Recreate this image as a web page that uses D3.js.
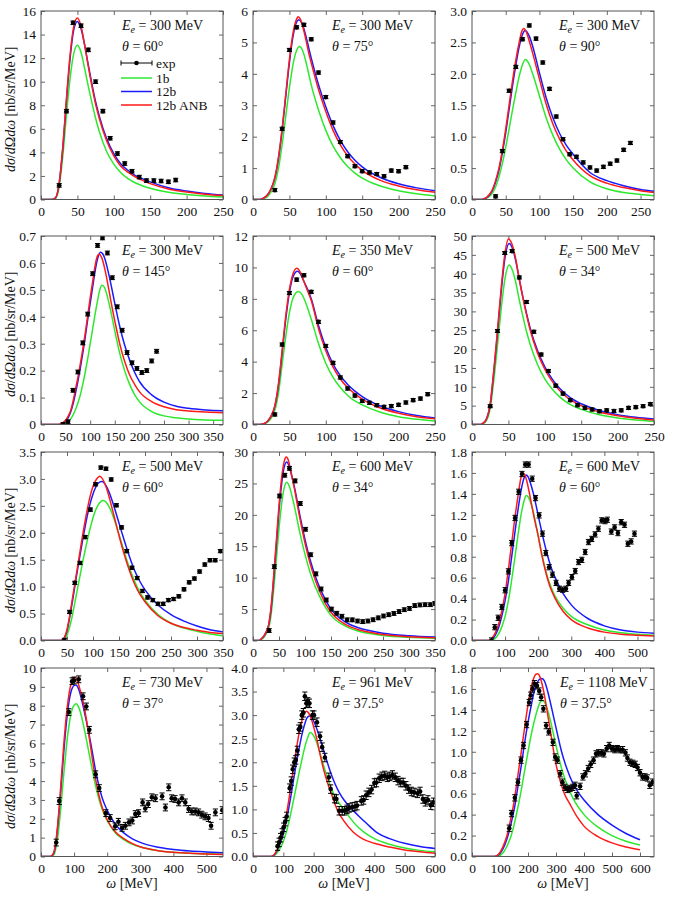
<!DOCTYPE html>
<html><head><meta charset="utf-8">
<script src="https://cdn.jsdelivr.net/npm/d3@7"></script>
<style>
body{margin:0;background:#fff}
svg{display:block}
text{font-family:"Liberation Serif","DejaVu Serif","Times New Roman",serif;fill:#111}
</style>
</head><body>
<svg id="c" width="673" height="898"></svg>
<script>
// ---------------- panel meta ----------------
const energies = [300,300,300,300,350,500,500,600,600,730,961,1108];
const angles = ["60","75","90","145","60","34","60","34","60","37","37.5","37.5"];
const xMax = [250,250,270,370,250,250,350,350,550,550,600,650];
const yMax = [16,6,3,0.7,12,50,3.5,30,1.8,10,4,1.8];
const expErr = [0.15,0.05,0.025,0.007,0.1,0.4,0.03,0.3,0.025,0.18,0.09,0.03];
const xLabels = [
  ["0","50","100","150","200","250"],["0","50","100","150","200","250"],["0","50","100","150","200","250"],
  ["0","50","100","150","200","250","300","350"],["0","50","100","150","200","250"],["0","50","100","150","200","250"],
  ["0","50","100","150","200","250","300","350"],["0","50","100","150","200","250","300","350"],["0","100","200","300","400","500"],
  ["0","100","200","300","400","500"],["0","100","200","300","400","500","600"],["0","100","200","300","400","500","600"]];
const yLabels = [
  ["0","2","4","6","8","10","12","14","16"],["0","1","2","3","4","5","6"],["0.0","0.5","1.0","1.5","2.0","2.5","3.0"],
  ["0","0.1","0.2","0.3","0.4","0.5","0.6","0.7"],["0","2","4","6","8","10","12"],["0","5","10","15","20","25","30","35","40","45","50"],
  ["0.0","0.5","1.0","1.5","2.0","2.5","3.0","3.5"],["0","5","10","15","20","25","30"],["0.0","0.2","0.4","0.6","0.8","1.0","1.2","1.4","1.6","1.8"],
  ["0","1","2","3","4","5","6","7","8","9","10"],["0.0","0.5","1.0","1.5","2.0","2.5","3.0","3.5","4.0"],["0.0","0.2","0.4","0.6","0.8","1.0","1.2","1.4","1.6","1.8"]];
const legendLabels = ["exp","1b","12b","12b ANB"];

// ---------------- experimental data [omega, value] ----------------
const exp1 = [[25,1.2],[35,7.5],[44,15.0],[55,14.75],[65,12.7],[75,10.0],[85,7.5],[95,5.2],[105,3.9],[115,3.05],[125,2.4],[135,1.9],[145,1.6],[155,1.6],[165,1.57],[175,1.5],[185,1.65]];
const exp2 = [[30,0.3],[40,2.25],[50,4.76],[60,5.48],[70,5.56],[80,5.1],[90,4.04],[100,3.26],[110,2.45],[120,1.83],[130,1.38],[140,1.06],[150,0.9],[160,0.86],[170,0.81],[180,0.74],[190,0.92],[200,0.9],[210,1.03]];
const exp3 = [[35,0.05],[45,0.77],[55,1.73],[65,2.11],[75,2.55],[85,2.77],[95,2.56],[105,2.18],[115,1.76],[125,1.32],[135,0.96],[145,0.72],[155,0.68],[165,0.59],[175,0.51],[185,0.46],[195,0.52],[205,0.57],[215,0.62],[225,0.79],[235,0.9]];
const exp4 = [[45,0.0],[55,0.01],[65,0.127],[75,0.195],[85,0.303],[95,0.41],[105,0.56],[115,0.665],[125,0.693],[135,0.637],[145,0.545],[155,0.437],[165,0.35],[175,0.267],[185,0.229],[195,0.208],[205,0.193],[215,0.2],[225,0.236],[235,0.272]];
const exp5 = [[30,0.64],[40,5.09],[50,8.37],[60,9.22],[70,9.5],[80,8.44],[90,6.53],[100,5.0],[110,3.92],[120,2.99],[130,2.29],[140,1.84],[150,1.5],[160,1.38],[170,1.23],[180,1.12],[190,1.17],[200,1.25],[210,1.4],[220,1.55],[230,1.65],[240,1.93]];
const exp6 = [[25,4.86],[35,24.8],[45,45.5],[55,46.0],[65,39.0],[75,32.5],[85,24.6],[95,18.55],[105,14.2],[115,10.3],[125,8.2],[135,6.45],[145,5.1],[155,4.4],[165,3.97],[175,3.5],[185,3.75],[195,3.6],[205,3.75],[215,4.4],[225,4.6],[235,4.86],[245,5.4]];
const exp7 = [[45,0.01],[55,0.53],[65,1.07],[75,1.44],[85,1.92],[95,2.43],[105,2.9],[115,3.21],[125,3.19],[135,2.99],[145,2.51],[155,2.1],[165,1.66],[175,1.35],[185,1.16],[195,0.92],[205,0.8],[215,0.75],[225,0.68],[235,0.68],[245,0.75],[255,0.77],[265,0.82],[275,0.95],[285,1.08],[295,1.15],[305,1.28],[315,1.41],[325,1.49],[335,1.49],[345,1.66]];
const exp8 = [[31,1.59],[41,11.75],[51,23.0],[61,26.3],[70,27.4],[81,25.4],[91,21.8],[101,17.7],[111,13.65],[121,10.6],[131,8.2],[141,6.45],[151,5.0],[161,4.34],[171,3.86],[181,3.28],[191,3.28],[201,3.1],[211,3.0],[221,3.1],[231,3.3],[241,3.6],[251,3.9],[261,4.1],[271,4.3],[281,4.6],[291,4.9],[301,5.1],[311,5.55],[321,5.66],[331,5.7],[341,5.7],[350,5.9]];
const exp9 = [[59,0.0],[69,0.127],[79,0.217],[90,0.32],[100,0.48],[110,0.66],[120,0.93],[130,1.17],[141,1.42],[151,1.59],[161,1.68],[171,1.68],[182,1.545],[192,1.36],[203,1.195],[213,1.02],[223,0.835],[233,0.7],[243,0.628],[254,0.55],[264,0.494],[274,0.485],[284,0.494],[292,0.55],[302,0.605],[312,0.663],[322,0.749],[332,0.77],[342,0.845],[352,0.94],[362,0.97],[372,1.013],[382,1.067],[392,1.147],[402,1.14],[409,1.153],[421,1.04],[431,1.08],[441,1.026],[451,1.13],[461,1.105],[471,0.924],[481,0.946],[491,1.02]];
const exp10 = [[46,0.74],[55,2.94],[84,7.66],[94,9.3],[100,9.34],[114,9.4],[127,8.5],[137,7.96],[146,6.72],[165,4.36],[176,3.63],[196,2.3],[209,2.04],[224,1.6],[234,1.84],[245,1.52],[255,1.63],[266,1.81],[276,1.91],[285,2.25],[295,2.3],[307,2.87],[315,2.55],[324,2.78],[335,3.14],[346,3.09],[366,3.19],[376,2.6],[386,3.67],[395,3.09],[405,3.05],[416,2.87],[426,3.09],[436,2.87],[446,2.52],[456,2.39],[466,2.39],[476,2.34],[486,2.22],[496,2.13],[506,2.04],[514,1.63],[527,2.34],[548,2.46]];
const exp11 = [[81,0.22],[86,0.3],[91,0.4],[96,0.5],[101,0.62],[106,0.74],[111,0.85],[121,1.45],[126,1.6],[131,1.85],[136,2.0],[141,2.05],[146,2.25],[151,2.7],[156,2.75],[161,3.0],[166,3.05],[171,3.4],[176,3.25],[181,3.28],[186,3.25],[196,3.0],[201,3.0],[211,2.85],[221,2.55],[228,2.32],[237,2.1],[250,1.68],[256,1.43],[269,1.23],[275,1.22],[284,0.97],[294,0.97],[302,0.97],[310,1.0],[317,1.03],[327,1.05],[336,1.06],[343,1.08],[357,1.18],[365,1.2],[373,1.3],[382,1.36],[391,1.42],[400,1.56],[407,1.57],[416,1.66],[425,1.7],[434,1.72],[443,1.68],[451,1.7],[460,1.73],[469,1.68],[478,1.61],[487,1.57],[495,1.57],[504,1.5],[513,1.43],[522,1.38],[531,1.36],[542,1.34],[551,1.38],[560,1.22],[568,1.16],[577,1.2],[586,1.09],[595,1.15]];
const exp12 = [[133,0.27],[141,0.41],[153,0.56],[164,0.71],[175,0.92],[184,1.06],[195,1.26],[204,1.47],[210,1.54],[216,1.6],[223,1.65],[232,1.63],[240,1.58],[247,1.52],[255,1.41],[265,1.25],[274,1.19],[289,1.09],[297,0.95],[305,0.92],[315,0.79],[323,0.71],[332,0.66],[341,0.64],[350,0.65],[360,0.66],[368,0.68],[374,0.58],[386,0.67],[396,0.76],[405,0.79],[415,0.84],[424,0.88],[434,0.92],[443,0.98],[452,0.99],[462,0.99],[471,0.98],[481,1.03],[490,1.06],[500,1.03],[510,1.02],[519,1.03],[529,1.02],[538,1.02],[548,0.99],[555,0.94],[564,0.9],[574,0.89],[583,0.88],[591,0.85],[600,0.8],[609,0.76],[618,0.76],[626,0.75],[635,0.68],[645,0.71]];

// ---------------- theory curves [omega, value]: 1b (green), 12b (blue), 12b ANB (red) ----------------
const oneb1 = [[0,0],[15,0],[20,0.1],[25,1.1],[30,3.7],[35,7.2],[40,10.3],[45,12.4],[50,13.1],[55,12.5],[60,11.1],[65,9.6],[70,8.2],[75,6.9],[80,5.8],[90,4.1],[100,3.0],[110,2.25],[120,1.75],[130,1.4],[140,1.15],[150,0.95],[175,0.62],[200,0.43],[225,0.3],[250,0.22]];
const twob1 = [[0,0],[15,0],[20,0.15],[25,1.4],[30,4.4],[35,8.4],[40,12.0],[45,14.4],[50,15.1],[55,14.5],[60,13.1],[65,11.4],[70,9.8],[75,8.3],[80,7.1],[90,5.2],[100,3.9],[110,3.0],[120,2.45],[130,2.0],[140,1.75],[150,1.5],[175,1.0],[200,0.72],[225,0.52],[250,0.38]];
const anb1 = [[0,0],[15,0],[20,0.15],[25,1.4],[30,4.5],[35,8.6],[40,12.3],[45,14.7],[50,15.4],[55,14.7],[60,13.1],[65,11.3],[70,9.6],[75,8.1],[80,6.9],[90,5.0],[100,3.7],[110,2.8],[120,2.3],[130,1.9],[140,1.6],[150,1.35],[175,0.9],[200,0.63],[225,0.45],[250,0.33]];

const oneb2 = [[0,0],[10,0],[15,0.03],[20,0.1],[25,0.25],[30,0.5],[35,1.0],[40,1.75],[45,2.65],[50,3.55],[55,4.3],[60,4.75],[64,4.87],[68,4.75],[72,4.45],[76,4.05],[80,3.65],[90,2.85],[100,2.2],[110,1.7],[120,1.33],[130,1.05],[140,0.84],[150,0.68],[175,0.43],[200,0.28],[225,0.18],[250,0.11]];
const twob2 = [[0,0],[10,0],[15,0.05],[20,0.15],[25,0.35],[30,0.68],[35,1.3],[40,2.2],[45,3.28],[50,4.35],[55,5.2],[60,5.65],[63,5.72],[67,5.62],[71,5.35],[75,4.98],[80,4.5],[90,3.65],[100,2.95],[110,2.35],[120,1.88],[130,1.52],[140,1.25],[150,1.04],[175,0.7],[200,0.5],[225,0.37],[250,0.28]];
const anb2 = [[0,0],[10,0],[15,0.05],[20,0.15],[25,0.35],[30,0.7],[35,1.35],[40,2.25],[45,3.35],[50,4.45],[55,5.3],[60,5.75],[62,5.82],[65,5.74],[69,5.45],[73,5.05],[77,4.62],[80,4.35],[90,3.5],[100,2.8],[110,2.2],[120,1.74],[130,1.39],[140,1.13],[150,0.93],[175,0.61],[200,0.43],[225,0.31],[250,0.23]];

const oneb3 = [[0,0],[15,0],[20,0.01],[25,0.04],[30,0.1],[35,0.2],[40,0.36],[45,0.57],[50,0.83],[55,1.12],[60,1.42],[65,1.7],[70,1.96],[75,2.15],[79,2.23],[85,2.15],[90,2.0],[100,1.65],[110,1.3],[120,1.02],[130,0.8],[140,0.63],[150,0.5],[175,0.28],[200,0.17],[225,0.11],[250,0.08],[270,0.06]];
const twob3 = [[0,0],[15,0],[20,0.02],[25,0.06],[30,0.14],[35,0.28],[40,0.47],[45,0.74],[50,1.06],[55,1.43],[60,1.8],[65,2.14],[70,2.43],[75,2.63],[79,2.69],[85,2.6],[90,2.44],[100,2.02],[110,1.62],[120,1.3],[130,1.05],[140,0.86],[150,0.72],[175,0.43],[200,0.3],[225,0.22],[250,0.16],[270,0.13]];
const anb3 = [[0,0],[15,0],[20,0.02],[25,0.07],[30,0.15],[35,0.3],[40,0.5],[45,0.78],[50,1.12],[55,1.5],[60,1.88],[65,2.22],[70,2.5],[74,2.68],[77,2.72],[80,2.68],[85,2.52],[90,2.33],[100,1.92],[110,1.52],[120,1.2],[130,0.96],[140,0.77],[150,0.63],[175,0.38],[200,0.26],[225,0.19],[250,0.14],[270,0.11]];

const oneb4 = [[0,0],[40,0],[45,0.002],[50,0.005],[55,0.01],[60,0.02],[65,0.035],[70,0.055],[75,0.08],[80,0.11],[85,0.15],[90,0.195],[95,0.245],[100,0.3],[105,0.355],[110,0.41],[115,0.46],[120,0.503],[124,0.517],[128,0.512],[132,0.495],[137,0.46],[142,0.42],[147,0.375],[152,0.33],[160,0.265],[170,0.2],[180,0.15],[190,0.112],[200,0.085],[225,0.048],[250,0.032],[275,0.025],[300,0.02],[335,0.017],[370,0.016]];
const twob4 = [[0,0],[35,0],[40,0.002],[45,0.006],[50,0.013],[55,0.025],[60,0.045],[65,0.075],[70,0.115],[75,0.16],[80,0.21],[85,0.265],[90,0.325],[95,0.39],[100,0.45],[105,0.51],[110,0.57],[115,0.615],[121,0.64],[125,0.635],[130,0.615],[135,0.58],[140,0.54],[145,0.495],[150,0.45],[160,0.365],[170,0.295],[180,0.24],[190,0.195],[200,0.16],[225,0.11],[250,0.083],[275,0.068],[300,0.06],[335,0.054],[370,0.051]];
const anb4 = [[0,0],[35,0],[40,0.003],[45,0.008],[50,0.016],[55,0.03],[60,0.05],[65,0.085],[70,0.13],[75,0.175],[80,0.226],[85,0.28],[90,0.34],[95,0.405],[100,0.47],[105,0.53],[110,0.59],[115,0.627],[118,0.632],[122,0.625],[126,0.605],[130,0.575],[135,0.53],[140,0.48],[145,0.43],[150,0.385],[160,0.3],[170,0.235],[180,0.185],[190,0.15],[200,0.122],[225,0.085],[250,0.066],[275,0.055],[300,0.05],[335,0.046],[370,0.044]];

const oneb5 = [[0,0],[10,0],[15,0.03],[20,0.15],[25,0.4],[30,0.9],[35,2.0],[40,3.8],[45,5.6],[50,7.1],[55,8.05],[62,8.47],[67,8.3],[72,7.8],[80,6.7],[90,5.15],[100,3.9],[110,3.0],[120,2.35],[130,1.85],[140,1.5],[150,1.25],[175,0.78],[200,0.5],[225,0.33],[250,0.23]];
const twob5 = [[0,0],[10,0],[15,0.05],[20,0.2],[25,0.55],[30,1.15],[35,2.5],[40,4.55],[45,6.7],[50,8.4],[55,9.4],[61,9.75],[65,9.6],[70,9.1],[75,8.6],[80,8.0],[90,6.3],[100,4.9],[110,3.85],[120,3.1],[130,2.55],[140,2.12],[150,1.78],[175,1.18],[200,0.82],[225,0.58],[250,0.42]];
const anb5 = [[0,0],[10,0],[15,0.05],[20,0.2],[25,0.55],[30,1.2],[35,2.6],[40,4.7],[45,6.9],[50,8.6],[55,9.6],[60,9.95],[65,9.7],[70,9.1],[75,8.5],[80,7.9],[90,6.1],[100,4.7],[110,3.65],[120,2.9],[130,2.35],[140,1.95],[150,1.62],[175,1.05],[200,0.72],[225,0.5],[250,0.36]];

const oneb6 = [[0,0],[12,0],[15,0.2],[20,1.1],[25,4.3],[30,11.8],[35,21],[40,30.5],[45,38.3],[51,42.3],[55,41.2],[60,37.8],[65,33],[70,28.6],[75,24.6],[80,21.2],[90,15.9],[100,12.1],[110,9.4],[120,7.4],[130,5.9],[140,4.8],[150,4.0],[175,2.6],[200,1.75],[225,1.2],[250,0.85]];
const twob6 = [[0,0],[12,0],[15,0.3],[20,1.5],[25,5.3],[30,14],[35,24.3],[40,35],[45,43.8],[51,48],[55,47],[60,43.5],[65,38.5],[70,33.7],[75,29.4],[80,25.5],[90,19.6],[100,15.3],[110,12.1],[120,9.7],[130,7.9],[140,6.5],[150,5.5],[175,3.7],[200,2.6],[225,1.9],[250,1.45]];
const anb6 = [[0,0],[12,0],[15,0.3],[20,1.5],[25,5.5],[30,14.5],[35,25],[40,36],[45,45],[50,49.2],[55,47.8],[60,44],[65,38.5],[70,33.5],[75,29],[80,25],[90,19],[100,14.7],[110,11.5],[120,9.1],[130,7.3],[140,6.0],[150,5.0],[175,3.3],[200,2.3],[225,1.65],[250,1.2]];

const oneb7 = [[0,0],[42,0],[46,0.03],[50,0.1],[55,0.25],[60,0.45],[65,0.7],[70,0.95],[75,1.2],[80,1.45],[85,1.68],[90,1.9],[95,2.1],[100,2.28],[105,2.42],[110,2.52],[115,2.58],[120,2.6],[125,2.57],[130,2.5],[135,2.4],[140,2.27],[150,1.97],[160,1.65],[170,1.35],[180,1.1],[190,0.9],[200,0.75],[225,0.48],[250,0.32],[275,0.23],[300,0.17],[325,0.12],[350,0.09]];
const twob7 = [[0,0],[38,0],[42,0.02],[46,0.07],[50,0.18],[55,0.42],[60,0.7],[65,1.0],[70,1.3],[75,1.58],[80,1.86],[85,2.12],[90,2.36],[95,2.56],[100,2.72],[105,2.84],[110,2.92],[117,2.95],[122,2.92],[127,2.84],[132,2.73],[140,2.5],[150,2.18],[160,1.86],[170,1.56],[180,1.3],[190,1.1],[200,0.94],[225,0.66],[250,0.48],[275,0.36],[300,0.27],[325,0.2],[350,0.16]];
const anb7 = [[0,0],[38,0],[42,0.02],[46,0.08],[50,0.2],[55,0.45],[60,0.75],[65,1.05],[70,1.35],[75,1.65],[80,1.95],[85,2.23],[90,2.48],[95,2.7],[100,2.86],[105,2.97],[110,3.03],[113,3.05],[117,3.02],[122,2.93],[127,2.8],[132,2.63],[140,2.33],[150,1.95],[160,1.6],[170,1.3],[180,1.05],[190,0.86],[200,0.72],[225,0.46],[250,0.32],[275,0.24],[300,0.19],[325,0.15],[350,0.13]];

const oneb8 = [[0,0],[12,0],[15,0.1],[20,0.4],[25,1.0],[30,1.9],[35,4.2],[40,8.3],[45,13],[50,17.8],[55,21.7],[60,24.3],[65,25.2],[70,24.5],[75,23],[80,21.2],[90,17.2],[100,13.7],[110,10.8],[120,8.5],[130,6.7],[140,5.2],[150,4.0],[175,2.4],[200,1.55],[225,1.1],[250,0.8],[300,0.5],[350,0.36]];
const twob8 = [[0,0],[12,0],[15,0.2],[20,0.6],[25,1.3],[30,2.4],[35,5.2],[40,10],[45,15.3],[50,20.7],[55,24.9],[60,27.6],[65,28.4],[70,27.6],[75,26],[80,24.3],[90,20],[100,16.1],[110,12.8],[120,10.2],[130,8.1],[140,6.4],[150,5.0],[175,3.1],[200,2.1],[225,1.55],[250,1.15],[300,0.75],[350,0.55]];
const anb8 = [[0,0],[12,0],[15,0.2],[20,0.6],[25,1.3],[30,2.5],[35,5.5],[40,10.5],[45,16],[50,21.5],[55,25.8],[60,28.5],[64,29.2],[68,28.7],[72,27.3],[76,25.7],[80,24],[90,19.5],[100,15.5],[110,12.2],[120,9.6],[130,7.5],[140,5.8],[150,4.5],[175,2.7],[200,1.8],[225,1.3],[250,0.95],[300,0.6],[350,0.42]];

const oneb9 = [[0,0],[55,0],[60,0.003],[70,0.02],[80,0.06],[90,0.13],[100,0.23],[110,0.38],[120,0.58],[130,0.8],[140,1.03],[150,1.23],[157,1.33],[164,1.385],[170,1.37],[178,1.31],[185,1.23],[195,1.08],[205,0.92],[215,0.77],[225,0.64],[240,0.5],[250,0.43],[275,0.31],[300,0.23],[350,0.15],[400,0.1],[450,0.075],[500,0.06],[550,0.05]];
const twob9 = [[0,0],[50,0],[55,0.003],[60,0.01],[70,0.05],[80,0.12],[90,0.23],[100,0.38],[110,0.57],[120,0.8],[130,1.04],[140,1.27],[150,1.46],[157,1.55],[163,1.58],[170,1.56],[178,1.49],[185,1.41],[195,1.27],[205,1.12],[215,0.98],[225,0.85],[240,0.69],[250,0.61],[275,0.45],[300,0.34],[350,0.21],[400,0.14],[450,0.1],[500,0.08],[550,0.07]];
const anb9 = [[0,0],[50,0],[55,0.005],[60,0.02],[70,0.07],[80,0.15],[90,0.28],[100,0.45],[110,0.68],[120,0.93],[130,1.18],[140,1.4],[147,1.54],[153,1.6],[158,1.59],[165,1.53],[172,1.43],[180,1.3],[190,1.14],[200,1.0],[210,0.83],[220,0.69],[235,0.52],[250,0.41],[275,0.28],[300,0.2],[350,0.12],[400,0.08],[450,0.06],[500,0.05],[550,0.042]];

const oneb10 = [[0,0],[32,0],[36,0.05],[40,0.12],[45,0.45],[50,0.95],[55,1.7],[60,2.6],[65,3.6],[70,4.6],[75,5.5],[80,6.35],[85,7.0],[90,7.5],[95,7.85],[100,8.03],[107,8.1],[113,7.95],[120,7.6],[128,7.0],[135,6.4],[145,5.5],[155,4.6],[165,3.75],[175,3.05],[185,2.5],[200,1.9],[225,1.25],[250,0.9],[275,0.66],[300,0.5],[350,0.32],[400,0.22],[450,0.17],[500,0.14],[550,0.12]];
const twob10 = [[0,0],[28,0],[32,0.03],[36,0.1],[40,0.25],[45,0.72],[50,1.5],[55,2.45],[60,3.55],[65,4.7],[70,5.8],[75,6.8],[80,7.6],[85,8.25],[90,8.7],[95,8.95],[100,9.08],[106,9.1],[112,8.95],[118,8.65],[125,8.15],[135,7.35],[145,6.5],[155,5.55],[165,4.55],[175,3.75],[185,3.1],[200,2.45],[225,1.7],[250,1.25],[275,0.95],[300,0.75],[350,0.5],[400,0.37],[450,0.29],[500,0.24],[550,0.2]];
const anb10 = [[0,0],[28,0],[32,0.03],[36,0.12],[40,0.3],[45,0.8],[50,1.6],[55,2.6],[60,3.8],[65,5.0],[70,6.2],[75,7.2],[80,8.0],[85,8.65],[90,9.1],[95,9.38],[100,9.5],[104,9.5],[108,9.4],[113,9.15],[118,8.85],[125,8.4],[135,7.5],[145,6.4],[155,5.2],[165,4.1],[175,3.25],[185,2.6],[200,1.95],[225,1.3],[250,0.95],[275,0.7],[300,0.52],[350,0.32],[400,0.22],[450,0.17],[500,0.13],[550,0.11]];

const oneb11 = [[0,0],[65,0],[70,0.02],[80,0.08],[90,0.18],[100,0.32],[110,0.52],[120,0.78],[130,1.08],[140,1.4],[150,1.72],[160,2.02],[170,2.3],[180,2.52],[188,2.63],[196,2.6],[205,2.5],[215,2.32],[225,2.1],[240,1.78],[255,1.5],[270,1.27],[285,1.12],[300,1.0],[320,0.82],[345,0.63],[369,0.5],[400,0.38],[450,0.26],[500,0.18],[550,0.13],[600,0.1]];
const twob11 = [[0,0],[60,0],[65,0.01],[70,0.035],[80,0.13],[90,0.28],[100,0.48],[110,0.76],[120,1.1],[130,1.48],[140,1.87],[150,2.22],[160,2.55],[170,2.8],[178,2.94],[186,2.98],[195,2.93],[205,2.8],[215,2.62],[225,2.42],[240,2.1],[255,1.8],[270,1.55],[285,1.35],[300,1.2],[327,1.0],[350,0.85],[375,0.7],[410,0.5],[450,0.38],[500,0.28],[550,0.21],[600,0.17]];
const anb11 = [[0,0],[60,0],[65,0.01],[70,0.04],[80,0.15],[90,0.32],[100,0.55],[110,0.88],[120,1.28],[130,1.72],[140,2.15],[150,2.55],[160,2.85],[168,3.02],[176,3.08],[184,3.04],[192,2.93],[200,2.75],[210,2.5],[220,2.2],[230,1.92],[240,1.68],[250,1.48],[260,1.3],[277,1.0],[300,0.75],[330,0.52],[360,0.38],[400,0.28],[450,0.2],[500,0.14],[550,0.1],[600,0.07]];

const oneb12 = [[0,0],[85,0],[95,0.005],[105,0.02],[115,0.05],[125,0.1],[140,0.2],[150,0.3],[160,0.42],[175,0.62],[190,0.85],[200,1.0],[212,1.17],[225,1.32],[237,1.43],[245,1.48],[252,1.49],[260,1.47],[270,1.4],[280,1.3],[290,1.18],[300,1.06],[320,0.84],[340,0.68],[360,0.56],[380,0.47],[400,0.4],[450,0.28],[500,0.2],[550,0.145],[600,0.11]];
const twob12 = [[0,0],[80,0],[90,0.008],[100,0.03],[110,0.07],[125,0.17],[140,0.32],[150,0.44],[160,0.6],[175,0.85],[190,1.12],[200,1.28],[210,1.42],[220,1.55],[230,1.64],[240,1.69],[249,1.7],[258,1.68],[268,1.6],[280,1.47],[290,1.35],[300,1.23],[320,1.0],[340,0.83],[360,0.7],[380,0.61],[400,0.54],[450,0.4],[500,0.3],[550,0.22],[600,0.16]];
const anb12 = [[0,0],[80,0],[90,0.01],[100,0.04],[110,0.09],[125,0.2],[140,0.38],[150,0.52],[160,0.7],[175,0.98],[190,1.27],[200,1.45],[210,1.6],[220,1.7],[228,1.74],[235,1.745],[242,1.72],[250,1.65],[260,1.52],[270,1.36],[280,1.2],[290,1.03],[300,0.88],[315,0.72],[330,0.6],[350,0.5],[375,0.38],[400,0.29],[450,0.19],[500,0.13],[550,0.09],[600,0.064]];

// ---------------- assemble ----------------
const expSets = [exp1,exp2,exp3,exp4,exp5,exp6,exp7,exp8,exp9,exp10,exp11,exp12];
const onebSets = [oneb1,oneb2,oneb3,oneb4,oneb5,oneb6,oneb7,oneb8,oneb9,oneb10,oneb11,oneb12];
const twobSets = [twob1,twob2,twob3,twob4,twob5,twob6,twob7,twob8,twob9,twob10,twob11,twob12];
const anbSets = [anb1,anb2,anb3,anb4,anb5,anb6,anb7,anb8,anb9,anb10,anb11,anb12];

// ---------------- layout / style ----------------
const colX = [41, 253, 472], colW = 182;
const rowY = [11, 236, 452, 668], rowH = 188.5;
const labelDX = [81, 79, 87, 81, 79, 87, 81, 79, 87, 81, 79, 88];
const colors = {oneb:"#2ee82e", twob:"#1a1aff", anb:"#ff1a1a"};
const frameColor = "#555";
const FONT = '"Liberation Serif","DejaVu Serif",serif';
const svg = d3.select("#c");
const defs = svg.append("defs");

expSets.forEach((expd, i) => {
  const r = Math.floor(i/3), c = i % 3;
  const x0 = colX[c], y0 = rowY[r];
  const x = d3.scaleLinear().domain([0, xMax[i]]).range([x0, x0 + colW]);
  const y = d3.scaleLinear().domain([0, yMax[i]]).range([y0 + rowH, y0]);
  const g = svg.append("g");

  defs.append("clipPath").attr("id","clip"+i).append("rect")
    .attr("x", x0).attr("y", y0).attr("width", colW).attr("height", rowH);

  const xt = xLabels[i].map(Number), yt = yLabels[i].map(Number);
  const styleAxis = sel => {
    sel.attr("font-family", FONT);
    sel.select(".domain").remove();
    sel.selectAll(".tick line").attr("stroke", frameColor).attr("stroke-width", 0.9);
    sel.selectAll(".tick text").attr("font-size", 13.5).attr("font-family", FONT).attr("fill","#111");
  };
  g.append("g").attr("transform",`translate(0,${y0+rowH})`)
    .call(d3.axisBottom(x).tickValues(xt).tickFormat((d,j)=>xLabels[i][j]).tickSize(-4).tickPadding(7)).call(styleAxis);
  g.append("g").attr("transform",`translate(0,${y0})`)
    .call(d3.axisTop(x).tickValues(xt).tickFormat("").tickSize(-4)).call(styleAxis);
  g.append("g").attr("transform",`translate(${x0},0)`)
    .call(d3.axisLeft(y).tickValues(yt).tickFormat((d,j)=>yLabels[i][j]).tickSize(-4).tickPadding(5)).call(styleAxis);
  g.append("g").attr("transform",`translate(${x0+colW},0)`)
    .call(d3.axisRight(y).tickValues(yt).tickFormat("").tickSize(-4)).call(styleAxis);

  const line = d3.line().x(d => x(d[0])).y(d => y(d[1])).curve(d3.curveMonotoneX);
  const cg = g.append("g").attr("clip-path", `url(#clip${i})`);
  [["oneb", onebSets[i]], ["twob", twobSets[i]], ["anb", anbSets[i]]].forEach(([k, arr]) => {
    cg.append("path").datum(arr).attr("d", line)
      .attr("fill","none").attr("stroke", colors[k]).attr("stroke-width", 1.5);
  });

  // experimental points with y error bars
  const e = expErr[i];
  const pg = cg.append("g");
  expd.forEach(d => {
    const px = x(d[0]), yl = y(Math.max(0, d[1]-e)), yh = y(d[1]+e);
    pg.append("line").attr("x1",px).attr("x2",px).attr("y1",yl).attr("y2",yh).attr("stroke","#000").attr("stroke-width",1);
    pg.append("line").attr("x1",px-2.6).attr("x2",px+2.6).attr("y1",yl).attr("y2",yl).attr("stroke","#000").attr("stroke-width",1);
    pg.append("line").attr("x1",px-2.6).attr("x2",px+2.6).attr("y1",yh).attr("y2",yh).attr("stroke","#000").attr("stroke-width",1);
    pg.append("circle").attr("cx",px).attr("cy",y(d[1])).attr("r",2.3).attr("fill","#000");
  });

  // frame
  g.append("rect").attr("x",x0).attr("y",y0).attr("width",colW).attr("height",rowH)
    .attr("fill","none").attr("stroke",frameColor).attr("stroke-width",1);

  // annotation
  const tx = x0 + labelDX[i];
  const t1 = g.append("text").attr("x", tx).attr("y", y0 + 19).attr("font-size", 14);
  t1.append("tspan").attr("font-style","italic").text("E");
  t1.append("tspan").attr("font-style","italic").attr("font-size",10).attr("dy",3).text("e");
  t1.append("tspan").attr("dy",-3).text(` = ${energies[i]} MeV`);
  const t2 = g.append("text").attr("x", tx).attr("y", y0 + 39.5).attr("font-size", 14);
  t2.append("tspan").attr("font-style","italic").text("θ");
  t2.append("tspan").text(` = ${angles[i]}°`);

  // y axis title on first column
  if (c === 0) {
    const yt2 = g.append("text").attr("transform",`translate(15,${y0+rowH/2+4}) rotate(-90)`)
      .attr("text-anchor","middle").attr("font-size",14);
    yt2.append("tspan").attr("font-style","italic").text("dσ");
    yt2.append("tspan").text("/");
    yt2.append("tspan").attr("font-style","italic").text("d");
    yt2.append("tspan").text("Ω");
    yt2.append("tspan").attr("font-style","italic").text("dω");
    yt2.append("tspan").text(" [nb/sr/MeV]");
  }
  // x axis title on last row
  if (r === 3) {
    const xt2 = g.append("text").attr("x", x0 + colW/2).attr("y", y0 + rowH + 31)
      .attr("text-anchor","middle").attr("font-size",14);
    xt2.append("tspan").attr("font-style","italic").text("ω");
    xt2.append("tspan").text(" [MeV]");
  }

  // legend in first panel
  if (i === 0) {
    const lx1 = x0 + 80, lx2 = x0 + 111, ltx = x0 + 115;
    const ly = [y0 + 52, y0 + 67, y0 + 80.5, y0 + 94];
    const lg = g.append("g");
    lg.append("line").attr("x1",lx1).attr("x2",lx2).attr("y1",ly[0]).attr("y2",ly[0]).attr("stroke","#000");
    lg.append("line").attr("x1",lx1).attr("x2",lx1).attr("y1",ly[0]-2.5).attr("y2",ly[0]+2.5).attr("stroke","#000");
    lg.append("line").attr("x1",lx2).attr("x2",lx2).attr("y1",ly[0]-2.5).attr("y2",ly[0]+2.5).attr("stroke","#000");
    lg.append("circle").attr("cx",(lx1+lx2)/2).attr("cy",ly[0]).attr("r",2.3).attr("fill","#000");
    [colors.oneb, colors.twob, colors.anb].forEach((col, k) => {
      lg.append("line").attr("x1",lx1).attr("x2",lx2).attr("y1",ly[k+1]).attr("y2",ly[k+1]).attr("stroke",col).attr("stroke-width",1.5);
    });
    legendLabels.forEach((t, k) => {
      lg.append("text").attr("x", ltx).attr("y", ly[k] + 4.5).attr("font-size", 13.5).text(t);
    });
  }
});
</script>
</body></html>
